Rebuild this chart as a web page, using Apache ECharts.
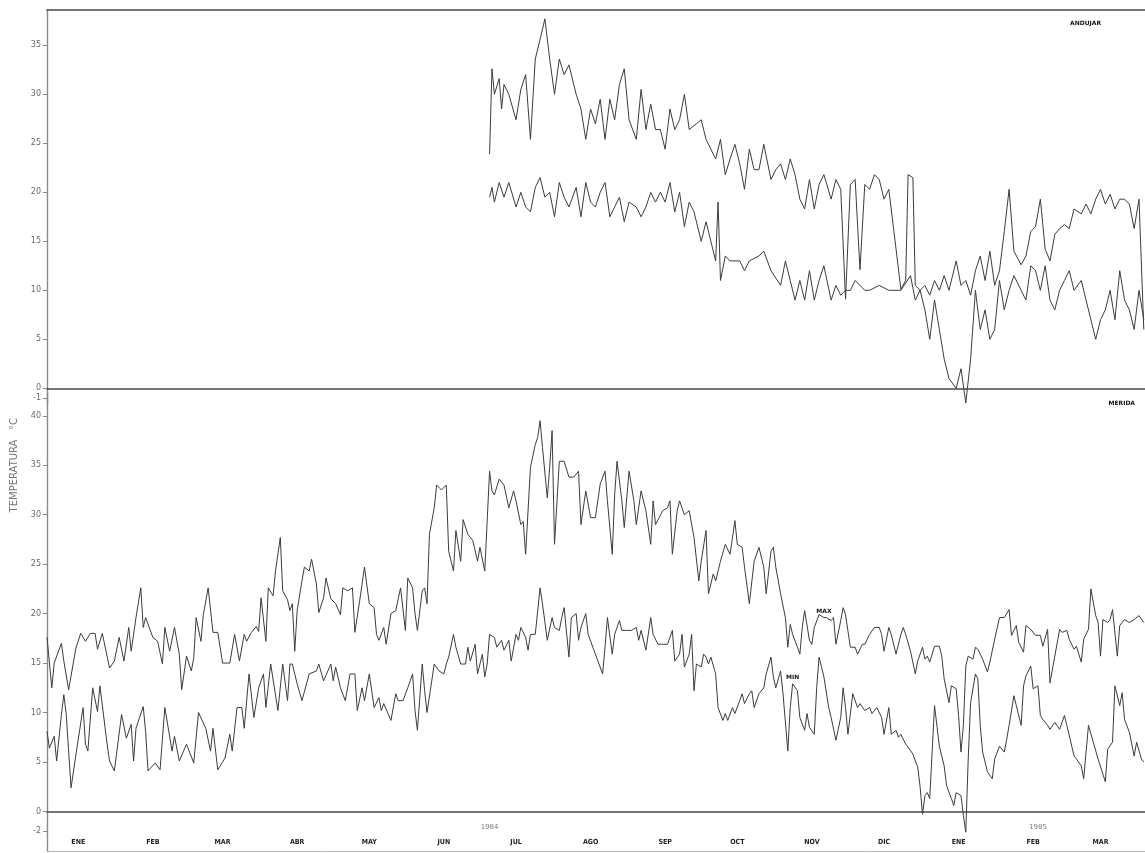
<!DOCTYPE html>
<html>
<head>
<meta charset="utf-8">
<script src="https://cdn.jsdelivr.net/npm/echarts@6/dist/echarts.min.js"></script>
<style>
  html, body { margin: 0; padding: 0; background: #fff; }
  #chart { width: 1145px; height: 853px; }
</style>
</head>
<body>
<div id="chart"></div>
<script>
// Daily temperatures, day 0 = 1 Jan 1984. Pairs are [day, °C].
const monthStarts = [0, 31, 60, 91, 121, 152, 182, 213, 244, 274, 305, 335, 366, 397, 425];
const monthNames = ['ENE', 'FEB', 'MAR', 'ABR', 'MAY', 'JUN', 'JUL', 'AGO', 'SEP', 'OCT', 'NOV', 'DIC', 'ENE', 'FEB', 'MAR'];
const years = [{ text: '1984', day: 184 }, { text: '1985', day: 412 }];
const topTicks = [-1, 0, 5, 10, 15, 20, 25, 30, 35];
const bottomTicks = [-2, 0, 5, 10, 15, 20, 25, 30, 35, 40];
const topStation = 'ANDUJAR';
const bottomStation = 'MERIDA';
const maxTagDay = 323;
const minTagDay = 310;

// Upper panel station (record starts in July 1984)
const maxTop = [[184,23.9],[185,32.6],[186,30],[188,31.6],[189,28.5],[190,31],[192,30],[195,27.4],[197,30.5],[199,32],[201,25.4],[203,33.6],[205,35.6],[207,37.7],[209,33.6],[211,30],[213,33.6],[215,32],[217,33],[220,30],[222,28.5],[224,25.4],[226,28.5],[228,27],[230,29.5],[232,25.4],[234,29.5],[236,27.4],[238,31],[240,32.6],[242,27.4],[245,25.4],[247,30.5],[249,26.4],[251,29],[253,26.4],[255,26.4],[257,24.4],[259,28.5],[261,26.4],[263,27.4],[265,30],[267,26.4],[270,27],[272,27.4],[274,25.4],[276,24.4],[278,23.4],[280,25.4],[282,21.8],[284,23.4],[286,24.9],[288,22.9],[290,20.3],[292,24.4],[294,22.3],[296,22.3],[298,24.9],[301,21.3],[303,22.3],[305,22.9],[307,21.3],[309,23.4],[311,21.8],[313,19.3],[315,18.3],[317,21.3],[319,18.3],[321,20.8],[323,21.8],[326,19.3],[328,21.3],[330,20.3],[332,9.1],[334,20.8],[336,21.3],[338,12.1],[340,20.8],[342,20.3],[344,21.8],[346,21.3],[348,19.3],[350,20.3],[353,14.2],[355,10.1],[357,11],[358,21.8],[360,21.5],[361,10.5],[363,10],[365,10.5],[367,9.5],[369,11],[371,10],[373,11.5],[375,10],[378,13],[380,10.5],[382,11],[384,9.5],[386,12],[388,13.5],[390,11],[392,14],[394,10.5],[396,12],[398,16],[400,20.3],[402,14],[405,12.6],[407,13.5],[409,16],[411,16.5],[413,19.3],[415,14.2],[417,13],[419,15.7],[421,16.3],[423,16.7],[425,16.3],[427,18.3],[430,17.8],[432,18.8],[434,17.8],[436,19.3],[438,20.3],[440,18.8],[442,19.8],[444,18.3],[446,19.3],[448,19.3],[450,18.8],[452,16.3],[454,19.3],[456,6]];
const minTop = [[184,19.5],[185,20.5],[186,19],[188,21],[190,19.5],[192,21],[195,18.5],[197,20],[199,18.5],[201,18],[203,20.5],[205,21.5],[207,19.5],[209,20],[211,17.5],[213,21],[215,19.5],[217,18.5],[220,20.5],[222,17.5],[224,21],[226,19],[228,18.5],[230,20],[232,21],[234,17.5],[236,18.5],[238,19.5],[240,17],[242,19],[245,18.5],[247,17.5],[249,18.5],[251,20],[253,19],[255,20],[257,19],[259,21],[261,18],[263,20],[265,16.5],[267,19],[269,18],[272,15],[274,17],[276,15],[278,13],[279,19],[280,11],[282,13.5],[284,13],[288,13],[290,12],[292,13],[296,13.5],[298,14],[301,12],[305,10.5],[307,13],[309,11],[311,9],[313,11],[315,9],[317,12],[319,9],[321,11],[323,12.5],[326,9],[328,10.5],[330,9.5],[332,10],[334,10],[336,11],[338,10.5],[340,10],[342,10],[346,10.5],[350,10],[355,10],[359,11.5],[361,9],[363,10],[365,8],[367,5],[369,9],[371,6],[373,3],[375,1],[378,0],[380,2],[382,-1.5],[384,3],[386,10],[388,6],[390,8],[392,5],[394,6],[396,11],[398,8],[400,10],[402,11.5],[405,10],[407,9],[409,12.5],[411,12],[413,10],[415,12.5],[417,9],[419,8],[421,10],[423,11],[425,12],[427,10],[430,11],[432,9],[434,7],[436,5],[438,7],[440,8],[442,10],[444,7],[446,12],[448,9],[450,8],[452,6],[454,10],[456,7]];

// Lower panel station (full period)
const maxBottom = [[0,17.6],[2,12.5],[3,15],[6,17],[7,15.2],[9,12.3],[12,16.5],[14,18],[16,17.2],[18,18],[20,18],[21,16.4],[23,18],[26,14.5],[28,15.2],[30,17.6],[32,15.2],[34,18.6],[35,16.2],[37,19.6],[39,22.6],[40,18.6],[41,19.6],[44,17.6],[46,17.2],[48,14.9],[49,18.6],[51,16.2],[53,18.6],[55,15.9],[56,12.3],[58,15.7],[60,14.2],[61,15.5],[62,19.6],[64,17.2],[65,19.9],[67,22.6],[69,18.1],[71,18.1],[73,15],[76,15],[78,17.9],[80,15.2],[82,17.9],[83,17.2],[85,18.1],[87,18.7],[88,18.2],[89,21.6],[91,17.2],[92,22.6],[94,21.8],[95,24.3],[97,27.7],[98,22.3],[100,21.4],[101,20.3],[102,21],[103,16.2],[104,20.3],[106,23.3],[107,24.7],[109,24.3],[110,25.5],[112,23],[113,20.1],[115,21.6],[116,23.6],[118,21.5],[120,21],[122,19.9],[123,22.6],[125,22.3],[127,22.6],[128,18.1],[130,21.3],[132,24.7],[134,21],[136,20.6],[137,17.9],[138,17.3],[140,18.6],[141,16.9],[143,20],[145,20.3],[147,22.6],[149,18.3],[150,23.6],[152,22.6],[153,20],[154,18.3],[156,22.3],[157,22.6],[158,21],[159,28],[161,30.7],[162,33],[164,32.5],[166,33],[167,26.3],[169,24.3],[170,28.4],[172,25.3],[173,29.5],[175,28],[177,27.4],[179,25.3],[180,26.7],[182,24.3],[184,34.4],[185,32.4],[186,32],[188,33.6],[190,33],[192,30.7],[194,32.4],[195,31.4],[197,29],[198,29.3],[199,26],[201,34.8],[203,37.1],[204,37.8],[205,39.5],[206,36.8],[208,31.7],[209,34.8],[210,38.5],[211,27],[213,35.4],[215,35.4],[217,33.8],[219,33.8],[221,34.4],[222,29],[224,32.4],[226,29.7],[228,29.7],[230,33.1],[232,34.4],[233,31.4],[235,26],[236,32],[237,35.4],[239,31.4],[240,28.7],[242,34.4],[244,31.4],[245,29],[247,32.4],[249,30.4],[251,27],[252,31.4],[253,29],[256,30.4],[258,30.7],[259,31.4],[260,26],[262,30.4],[263,31.4],[265,30],[267,30.4],[269,27.7],[271,23.3],[272,25.3],[274,28.4],[275,22],[277,24],[278,23.3],[280,25.3],[282,27],[284,26],[286,29.4],[287,27],[289,26.7],[290,24.7],[292,21],[294,25.3],[296,26.7],[298,24.7],[299,22],[301,26.3],[302,26.7],[303,24.7],[305,22],[307,19.6],[308,16.6],[309,18.9],[310,17.9],[312,16.6],[313,15.9],[314,18.6],[315,20.3],[317,17.3],[318,16.9],[319,18.6],[321,19.9],[323,19.6],[324,19.6],[326,19.3],[327,19.6],[328,16.9],[330,19.3],[331,20.6],[332,19.9],[334,16.6],[336,16.6],[337,15.9],[339,16.9],[340,16.9],[342,17.9],[344,18.6],[346,18.6],[347,17.9],[348,16.2],[350,18.6],[351,17.9],[353,15.9],[355,17.9],[356,18.6],[357,17.9],[359,16.2],[361,13.9],[362,15.2],[364,16.6],[365,15.4],[366,15.7],[367,15.1],[369,16.7],[371,16.7],[372,15.7],[373,13.4],[375,11],[376,12.7],[378,12.4],[379,9.7],[380,6],[381,8.7],[382,14.7],[383,15.7],[385,15.4],[386,16.6],[387,16.4],[389,15.4],[391,14.1],[392,15.1],[394,17.4],[396,19.6],[398,19.6],[400,20.4],[401,17.8],[403,18.8],[404,17.1],[406,16.1],[407,18.8],[409,18.4],[411,17.8],[413,17.8],[414,16.7],[416,18.4],[417,13],[419,15.7],[421,18.4],[422,18.1],[424,18.3],[425,17.4],[427,16.4],[428,16.7],[430,15.1],[431,17.4],[433,18.4],[434,22.5],[436,19.8],[437,19.1],[438,15.7],[439,19.4],[441,19.1],[442,19.4],[443,20.4],[445,15.7],[446,18.8],[448,19.4],[450,19.1],[452,19.4],[454,19.8],[456,19.1]];
const minBottom = [[0,8.1],[1,6.4],[3,7.6],[4,5.1],[6,9.8],[7,11.8],[8,9.8],[10,2.4],[12,5.7],[15,10.5],[16,6.8],[17,6.1],[19,12.5],[21,10.1],[22,12.7],[25,6.8],[26,5.1],[28,4.1],[31,9.8],[33,7.4],[35,8.8],[36,5.1],[37,8.4],[40,10.6],[41,8.1],[42,4.1],[45,4.9],[47,4.2],[49,10.5],[52,6.1],[53,7.6],[55,5.1],[58,6.8],[61,4.9],[63,10],[66,8.4],[68,6.1],[69,8.4],[71,4.2],[74,5.4],[76,7.8],[77,6.1],[79,10.5],[81,10.5],[82,8.4],[84,13.9],[86,9.5],[88,12.5],[90,13.9],[91,10.5],[93,14.9],[96,10.2],[98,14.9],[100,11.2],[101,14.9],[102,14.9],[104,12.9],[106,11.2],[109,13.9],[112,14.2],[113,14.9],[115,13.2],[118,14.9],[119,13.2],[120,14.6],[122,12.5],[124,11.2],[126,13.9],[128,13.9],[129,10.2],[131,12.5],[132,11.2],[134,13.9],[136,10.5],[138,11.5],[139,10.2],[140,10.9],[143,9.2],[145,11.9],[146,11.2],[148,11.2],[150,12.5],[152,13.9],[153,10.2],[154,8.2],[156,14.9],[157,12.2],[158,10],[161,14.9],[163,14.2],[165,13.9],[166,14.9],[167,15.6],[169,17.9],[170,16.6],[172,14.9],[174,14.9],[175,16.6],[176,15.2],[178,16.9],[179,13.9],[181,15.9],[182,13.6],[183,14.9],[184,17.9],[186,17.6],[187,16.6],[189,17.3],[190,16.3],[192,17.3],[193,15.2],[195,17.9],[196,17.3],[197,18.6],[199,17.6],[200,16.3],[201,17.9],[203,17.9],[205,22.6],[206,21],[208,17.3],[210,19.6],[211,18.6],[213,18.3],[214,19.6],[215,20.6],[217,15.6],[218,19.6],[220,20],[221,17.3],[222,18.6],[224,20],[225,17.9],[228,15.9],[231,13.9],[232,16.6],[233,19.6],[235,15.9],[236,17.9],[238,19.3],[239,18.3],[241,18.3],[243,18.3],[245,18.6],[246,17.3],[247,18.3],[249,16.3],[251,19.6],[252,17.9],[254,16.9],[256,16.9],[258,16.9],[260,18.3],[261,15.2],[263,15.9],[264,17.9],[265,14.6],[267,15.9],[268,17.9],[269,12.2],[270,14.9],[272,14.6],[273,15.9],[274,15.6],[275,14.9],[276,15.6],[278,13.9],[279,10.5],[281,9.2],[282,9.9],[283,9.2],[285,10.5],[286,9.9],[288,11.2],[289,11.9],[290,10.9],[292,11.9],[293,12.2],[294,10.5],[296,11.9],[298,12.5],[299,13.9],[301,15.6],[302,13.6],[303,12.5],[305,14.2],[306,11.9],[308,6.1],[309,10.5],[310,12.9],[312,12.2],[313,9.5],[315,8.2],[316,9.9],[317,8.5],[319,7.8],[320,12.5],[321,15.6],[323,13.6],[325,10.5],[326,9.5],[328,7.2],[330,9.5],[331,12.5],[332,10.5],[333,7.8],[335,11.9],[337,10.5],[338,10.9],[340,10.2],[342,10.5],[343,9.9],[345,10.5],[347,9.5],[348,7.8],[350,10.5],[351,7.8],[353,8.2],[354,7.5],[355,7.8],[357,6.8],[358,6.5],[360,5.8],[361,5.1],[362,4.5],[363,2.5],[364,-0.3],[365,1.6],[366,1.9],[367,1.3],[369,10.7],[371,6.6],[373,4.6],[374,2.6],[376,1.3],[377,0.6],[378,1.9],[380,1.6],[381,-0.4],[382,-2.1],[383,5.3],[384,11],[386,13.9],[387,13.4],[388,8.7],[389,6],[391,4],[393,3.3],[394,5.3],[396,6.6],[398,6],[399,7.3],[400,8.7],[402,11.7],[403,10.7],[405,8.7],[406,12.7],[407,13.7],[409,14.7],[410,12.4],[412,12.7],[413,9.7],[414,9.3],[416,8.7],[417,8.3],[419,9],[421,8.3],[423,9.7],[424,8.7],[425,7.7],[427,5.6],[428,5.3],[430,4.6],[431,3.3],[433,8.7],[435,7],[437,5.3],[440,3],[441,6.3],[443,7],[444,12.7],[446,10.7],[447,12],[448,9.3],[450,8],[452,5.6],[453,7],[455,5.3],[456,5]];

const DAY_MAX = 456.5;
const labelDays = monthStarts.map(d => d + 13);
const yearEnd = monthStarts[12];

const lineColor = '#3c3c3c';
const axisGray = '#8a8a8a';
const tickFont = { color: '#6a6a6a', fontSize: 8, fontFamily: 'DejaVu Sans' };

// Small caption sitting just above the series point of the given day
function tagAt(points, day, text) {
  const p = points.find(q => q[0] === day);
  return {
    symbol: 'circle', symbolSize: 1, itemStyle: { color: 'rgba(0,0,0,0)' },
    label: { show: true, formatter: text, position: 'top', distance: 3,
             fontSize: 6, fontWeight: 'bold', color: '#111', fontFamily: 'DejaVu Sans' },
    data: [{ coord: p }]
  };
}

function lineSeries(data, xi, yi, extra) {
  return Object.assign({
    type: 'line', xAxisIndex: xi, yAxisIndex: yi, data: data,
    showSymbol: false, animation: false,
    lineStyle: { color: lineColor, width: 1 }, z: 3
  }, extra || {});
}

const chart = echarts.init(document.getElementById('chart'), null, { renderer: 'canvas' });

const bareX = (grid, extra) => Object.assign({
  type: 'value', gridIndex: grid, min: 0, max: DAY_MAX,
  splitLine: { show: false }, axisTick: { show: false }, axisLabel: { show: false }
}, extra);

const option = {
  backgroundColor: '#ffffff',
  animation: false,
  grid: [
    { left: 47, right: 0, top: 10, height: 394 },
    { left: 47, right: 0, top: 393, height: 458 }
  ],
  xAxis: [
    bareX(0, { position: 'bottom', axisLine: { onZero: true, lineStyle: { color: '#4a4a4a', width: 1.6 } } }),
    bareX(0, { position: 'top', axisLine: { onZero: false, lineStyle: { color: '#4a4a4a', width: 1.6 } } }),
    bareX(1, { position: 'top', axisLine: { onZero: true, lineStyle: { color: '#4a4a4a', width: 1.6 } } }),
    bareX(1, {
      position: 'bottom',
      axisLine: { onZero: false, lineStyle: { color: '#b5b5b5', width: 1 } },
      axisLabel: {
        show: true, inside: true, margin: 5,
        customValues: labelDays,
        formatter: v => monthNames[labelDays.indexOf(v)] || '',
        fontSize: 7, fontWeight: 'bold', color: '#1e1e1e',
        fontFamily: 'DejaVu Sans Condensed, DejaVu Sans'
      }
    })
  ],
  yAxis: [
    {
      type: 'value', gridIndex: 0, min: -1.6, max: 38.6,
      splitLine: { show: false },
      axisLine: { show: true, onZero: false, lineStyle: { color: axisGray, width: 1.4 } },
      axisTick: { show: true, inside: false, length: 4, customValues: topTicks, lineStyle: { color: axisGray } },
      axisLabel: Object.assign({ customValues: topTicks, margin: 6 }, tickFont)
    },
    {
      type: 'value', gridIndex: 1, min: -4, max: 42.3,
      splitLine: { show: false },
      axisLine: { show: true, onZero: false, lineStyle: { color: axisGray, width: 1.4 } },
      axisTick: { show: true, inside: false, length: 4, customValues: bottomTicks, lineStyle: { color: axisGray } },
      axisLabel: Object.assign({ customValues: bottomTicks, margin: 6 }, tickFont)
    }
  ],
  series: [
    lineSeries(maxTop, 0, 0),
    lineSeries(minTop, 0, 0),
    lineSeries(maxBottom, 2, 1, {
      markPoint: tagAt(maxBottom, maxTagDay, 'MAX'),
      markLine: {
        silent: true, symbol: 'none', label: { show: false },
        lineStyle: { color: '#333', width: 1, type: 'solid' },
        data: [[{ coord: [yearEnd, -4.2] }, { coord: [yearEnd, 0] }]]
      }
    }),
    lineSeries(minBottom, 2, 1, { markPoint: tagAt(minBottom, minTagDay, 'MIN') })
  ]
};

chart.setOption(option);

// Year captions over the month row and the rotated axis title, placed through the axes
const yearGraphics = years.map(y => {
  const p = chart.convertToPixel({ xAxisIndex: 3, yAxisIndex: 1 }, [y.day, -1.6]);
  return {
    type: 'text', x: p[0], y: p[1],
    style: { text: y.text, fill: '#7a7a7a', fontSize: 7, fontFamily: 'DejaVu Sans',
             textAlign: 'center', textVerticalAlign: 'middle' }
  };
});
const titleCenter = chart.convertToPixel({ yAxisIndex: 1, xAxisIndex: 3 }, [0, 35]);
chart.setOption({
  graphic: [
    {
      type: 'text', x: 14, y: titleCenter[1], rotation: Math.PI / 2,
      style: { text: 'TEMPERATURA   °C', fill: '#777', fontSize: 10, fontFamily: 'DejaVu Sans',
               textAlign: 'center', textVerticalAlign: 'middle' }
    },
    {
      type: 'text', right: 44, top: 20,
      style: { text: topStation, fill: '#111', fontSize: 6, fontWeight: 'bold', fontFamily: 'DejaVu Sans' }
    },
    {
      type: 'text', right: 10, top: 400,
      style: { text: bottomStation, fill: '#111', fontSize: 6, fontWeight: 'bold', fontFamily: 'DejaVu Sans' }
    }
  ].concat(yearGraphics)
});
</script>
</body>
</html>
